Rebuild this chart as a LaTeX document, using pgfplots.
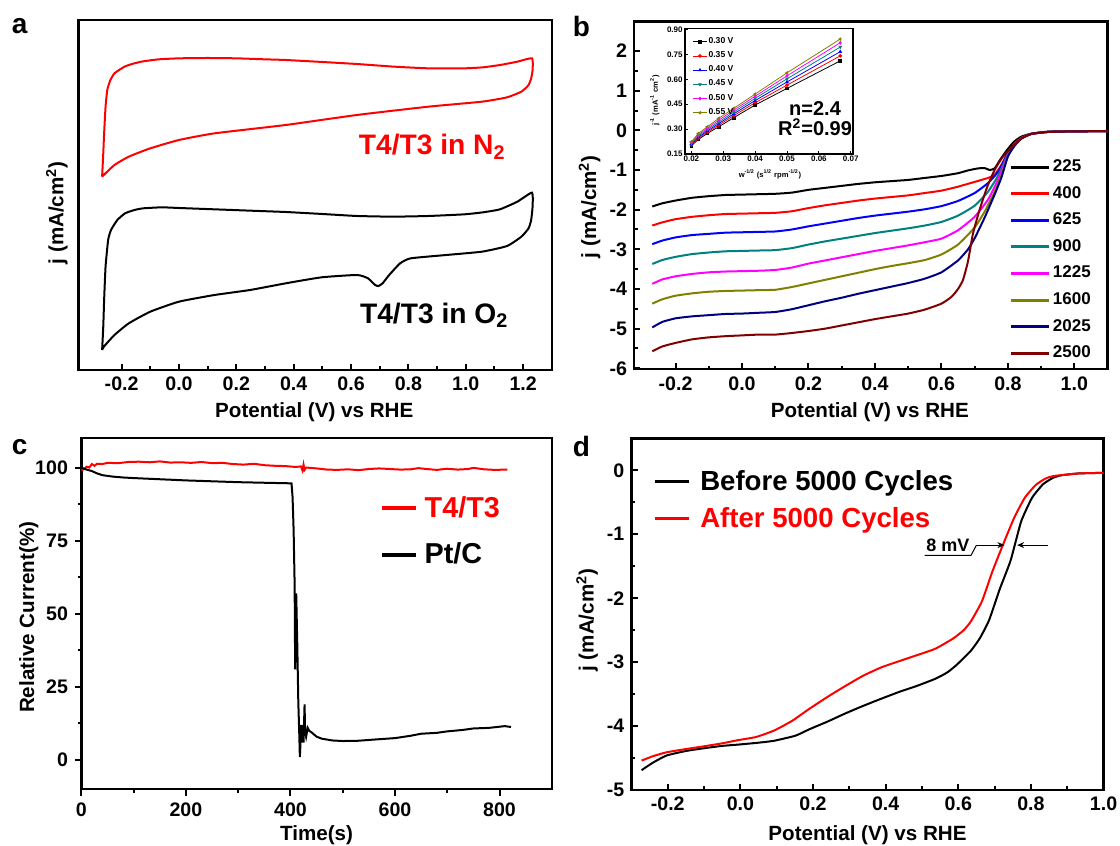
\documentclass[border=0pt]{standalone}
\usepackage{fontspec}
\setmainfont{Liberation Sans}
\usepackage{pgfplots}
\pgfplotsset{compat=1.18}
\usetikzlibrary{arrows.meta}
\newcommand{\fs}[1]{\fontsize{#1}{#1}\selectfont\bfseries}
\definecolor{cteal}{RGB}{0,128,128}
\definecolor{colive}{RGB}{128,128,0}
\definecolor{cnavy}{RGB}{0,0,128}
\definecolor{cwine}{RGB}{128,0,0}
\definecolor{cmag}{RGB}{255,0,255}
\definecolor{cred}{RGB}{255,0,0}
\definecolor{cblue}{RGB}{0,0,255}
\pgfplotsset{
  panel/.style={
    scale only axis, anchor=south west,
    axis line style={line width=1.2pt},
    tick style={black, line width=1pt},
    major tick length=3.2pt, minor tick length=1.8pt,
    tick align=inside, tick pos=left,
    /pgf/number format/assume math mode=true,
    tick label style={font=\fs{9.8}},
    label style={font=\fs{10.3}},
    every axis plot/.append style={line width=1pt},
    legend cell align=left,
  },
  fixone/.style={xticklabel style={/pgf/number format/.cd, fixed, fixed zerofill, precision=1}},
}
\begin{document}
\begin{tikzpicture}
\path[use as bounding box] (0,0) rectangle (560pt,423pt);
% ---------------- panel a
\begin{axis}[panel, fixone, at={(39.3pt,238pt)}, width=236.6pt, height=175pt,
  xmin=-0.35, xmax=1.3, ymin=-11.1, ymax=-0.6,
  xtick={-0.2,0,0.2,0.4,0.6,0.8,1.0,1.2}, minor x tick num=1, ytick=\empty,
  xlabel={Potential (V) vs RHE}, ylabel={j (mA/cm\textsuperscript{2})},
  x label style={at={(axis description cs:0.498,-0.12)}, anchor=center},
  y label style={at={(axis description cs:-0.046,0.449)}, anchor=center},
]
\addplot[cred, smooth, tension=0.3] coordinates {
(-0.268,-5.30) (-0.264,-4.60) (-0.261,-4.00) (-0.256,-3.20) (-0.25,-2.70) (-0.24,-2.42) (-0.225,-2.20) (-0.19,-2.00) (-0.16,-1.91) (-0.125,-1.84) (-0.07,-1.78) (0.0,-1.75) (0.1,-1.74) (0.2,-1.75) (0.3,-1.78) (0.372,-1.80) (0.5,-1.86) (0.62,-1.92) (0.75,-2.00) (0.87,-2.05) (0.995,-2.05) (1.06,-2.02) (1.12,-1.95) (1.18,-1.85) (1.231,-1.75) (1.233,-2.10) (1.228,-2.35) (1.219,-2.55) (1.194,-2.75) (1.144,-2.92) (1.057,-3.05) (0.87,-3.20) (0.62,-3.45) (0.372,-3.75) (0.124,-4.00) (0.0,-4.20) (-0.1,-4.45) (-0.175,-4.70) (-0.225,-4.95) (-0.262,-5.25) (-0.268,-5.30)};
\addplot[black, smooth, tension=0.3] coordinates {
(-0.268,-10.50) (-0.264,-9.80) (-0.261,-9.00) (-0.256,-8.00) (-0.247,-7.20) (-0.237,-6.90) (-0.215,-6.60) (-0.188,-6.40) (-0.155,-6.30) (-0.125,-6.25) (-0.06,-6.22) (0.0,-6.24) (0.124,-6.28) (0.248,-6.32) (0.372,-6.36) (0.5,-6.42) (0.621,-6.48) (0.746,-6.50) (0.87,-6.48) (0.995,-6.43) (1.06,-6.37) (1.119,-6.28) (1.18,-6.05) (1.231,-5.78) (1.233,-6.20) (1.228,-6.60) (1.219,-6.85) (1.194,-7.10) (1.144,-7.38) (1.057,-7.55) (0.932,-7.65) (0.808,-7.75) (0.771,-7.90) (0.733,-8.25) (0.71,-8.50) (0.696,-8.58) (0.684,-8.55) (0.659,-8.35) (0.621,-8.25) (0.497,-8.32) (0.372,-8.50) (0.248,-8.70) (0.124,-8.85) (0.0,-9.05) (-0.1,-9.35) (-0.175,-9.70) (-0.225,-10.05) (-0.262,-10.40) (-0.268,-10.50)};
\node[font=\fs{14.1}, text=cred] at (axis cs:0.883,-4.40) {T4/T3 in N\textsubscript{2}};
\node[font=\fs{14.1}] at (axis cs:0.89,-9.45) {T4/T3 in O\textsubscript{2}};
\end{axis}
% ---------------- panel b
\begin{axis}[panel, fixone, at={(317pt,238.35pt)}, width=236.8pt, height=173.8pt,
  xmin=-0.325, xmax=1.1, ymin=-6.025, ymax=2.74,
  xtick={-0.2,0,0.2,0.4,0.6,0.8,1.0}, ytick={-6,-5,-4,-3,-2,-1,0,1,2},
  minor x tick num=1, minor y tick num=1,
  xlabel={Potential (V) vs RHE}, ylabel={j (mA/cm\textsuperscript{2})},
  x label style={at={(axis description cs:0.498,-0.122)}, anchor=center},
  y label style={at={(axis description cs:-0.094,0.468)}, anchor=center},
  legend style={at={(axis description cs:0.792,0.6095)}, anchor=north west, draw=none, fill=none, inner sep=0pt, font=\fs{8.5}, row sep=3.85pt, nodes={inner sep=1pt}},
  legend image code/.code={\draw[#1, line width=1.5pt] (0pt,0pt) -- (19.2pt,0pt);},
]
\addplot[black, smooth, tension=0.3] coordinates {(-0.27,-1.92) (-0.24,-1.84) (-0.2,-1.77) (-0.15,-1.70) (-0.1,-1.66) (-0.05,-1.63) (0.0,-1.62) (0.05,-1.61) (0.1,-1.60) (0.15,-1.57) (0.2,-1.50) (0.25,-1.45) (0.3,-1.40) (0.35,-1.35) (0.4,-1.31) (0.45,-1.28) (0.5,-1.25) (0.55,-1.20) (0.6,-1.15) (0.65,-1.08) (0.68,-1.01) (0.71,-0.96) (0.73,-0.95) (0.745,-1.00) (0.76,-0.96) (0.776,-0.75) (0.797,-0.50) (0.818,-0.29) (0.84,-0.16) (0.872,-0.08) (0.925,-0.03) (1.0,-0.02) (1.1,-0.02)};
\addlegendentry{225}
\addplot[cred, smooth, tension=0.3] coordinates {(-0.27,-2.40) (-0.24,-2.32) (-0.2,-2.24) (-0.15,-2.18) (-0.1,-2.14) (-0.05,-2.11) (0.0,-2.10) (0.05,-2.09) (0.1,-2.08) (0.15,-2.04) (0.2,-1.96) (0.25,-1.89) (0.3,-1.83) (0.35,-1.77) (0.4,-1.72) (0.45,-1.68) (0.5,-1.64) (0.55,-1.58) (0.6,-1.52) (0.65,-1.42) (0.7,-1.30) (0.74,-1.20) (0.76,-1.12) (0.78,-0.88) (0.80,-0.56) (0.82,-0.34) (0.84,-0.19) (0.87,-0.09) (0.92,-0.04) (1.0,-0.025) (1.1,-0.02)};
\addlegendentry{400}
\addplot[cblue, smooth, tension=0.3] coordinates {(-0.27,-2.87) (-0.24,-2.78) (-0.2,-2.70) (-0.15,-2.64) (-0.1,-2.61) (-0.05,-2.58) (0.0,-2.57) (0.05,-2.56) (0.1,-2.55) (0.15,-2.50) (0.2,-2.42) (0.25,-2.35) (0.3,-2.28) (0.35,-2.21) (0.4,-2.15) (0.45,-2.10) (0.5,-2.05) (0.55,-1.99) (0.6,-1.91) (0.65,-1.78) (0.7,-1.58) (0.74,-1.33) (0.77,-1.05) (0.80,-0.58) (0.82,-0.35) (0.84,-0.2) (0.87,-0.09) (0.92,-0.04) (1.0,-0.025) (1.1,-0.02)};
\addlegendentry{625}
\addplot[cteal, smooth, tension=0.3] coordinates {(-0.27,-3.37) (-0.24,-3.27) (-0.2,-3.19) (-0.15,-3.12) (-0.1,-3.08) (-0.05,-3.05) (0.0,-3.04) (0.05,-3.03) (0.1,-3.02) (0.15,-2.97) (0.2,-2.88) (0.25,-2.80) (0.3,-2.73) (0.35,-2.66) (0.4,-2.59) (0.45,-2.53) (0.5,-2.47) (0.55,-2.40) (0.6,-2.31) (0.65,-2.15) (0.7,-1.90) (0.74,-1.55) (0.77,-1.15) (0.80,-0.60) (0.82,-0.36) (0.84,-0.2) (0.87,-0.09) (0.92,-0.04) (1.0,-0.025) (1.1,-0.02)};
\addlegendentry{900}
\addplot[cmag, smooth, tension=0.3] coordinates {(-0.27,-3.87) (-0.24,-3.76) (-0.2,-3.68) (-0.15,-3.62) (-0.1,-3.58) (-0.05,-3.56) (0.0,-3.55) (0.05,-3.54) (0.1,-3.52) (0.15,-3.46) (0.2,-3.36) (0.25,-3.28) (0.3,-3.20) (0.35,-3.12) (0.4,-3.04) (0.45,-2.97) (0.5,-2.90) (0.55,-2.82) (0.6,-2.73) (0.65,-2.52) (0.7,-2.18) (0.74,-1.75) (0.77,-1.25) (0.80,-0.62) (0.82,-0.37) (0.84,-0.2) (0.87,-0.09) (0.92,-0.04) (1.0,-0.025) (1.1,-0.02)};
\addlegendentry{1225}
\addplot[colive, smooth, tension=0.3] coordinates {(-0.27,-4.37) (-0.24,-4.26) (-0.2,-4.17) (-0.15,-4.11) (-0.1,-4.07) (-0.05,-4.05) (0.0,-4.04) (0.05,-4.03) (0.1,-4.02) (0.15,-3.95) (0.2,-3.86) (0.25,-3.77) (0.3,-3.68) (0.35,-3.59) (0.4,-3.50) (0.45,-3.42) (0.5,-3.35) (0.55,-3.27) (0.6,-3.13) (0.65,-2.88) (0.7,-2.45) (0.73,-2.05) (0.76,-1.55) (0.78,-1.15) (0.80,-0.64) (0.82,-0.38) (0.84,-0.21) (0.87,-0.09) (0.92,-0.04) (1.0,-0.025) (1.1,-0.02)};
\addlegendentry{1600}
\addplot[cnavy, smooth, tension=0.3] coordinates {(-0.27,-4.97) (-0.24,-4.83) (-0.2,-4.74) (-0.15,-4.69) (-0.1,-4.66) (-0.05,-4.63) (0.0,-4.62) (0.05,-4.60) (0.1,-4.58) (0.15,-4.51) (0.2,-4.41) (0.25,-4.31) (0.3,-4.22) (0.35,-4.12) (0.4,-4.03) (0.45,-3.94) (0.5,-3.85) (0.55,-3.74) (0.6,-3.58) (0.65,-3.28) (0.68,-3.00) (0.7,-2.72) (0.73,-2.20) (0.76,-1.62) (0.78,-1.20) (0.80,-0.66) (0.82,-0.39) (0.84,-0.21) (0.87,-0.09) (0.92,-0.04) (1.0,-0.025) (1.1,-0.02)};
\addlegendentry{2025}
\addplot[cwine, smooth, tension=0.3] coordinates {(-0.27,-5.57) (-0.24,-5.45) (-0.2,-5.36) (-0.15,-5.27) (-0.1,-5.22) (-0.05,-5.19) (0.0,-5.17) (0.05,-5.15) (0.1,-5.15) (0.15,-5.11) (0.2,-5.06) (0.25,-5.00) (0.3,-4.92) (0.35,-4.84) (0.4,-4.76) (0.45,-4.69) (0.5,-4.62) (0.55,-4.52) (0.6,-4.37) (0.63,-4.20) (0.65,-4.00) (0.665,-3.77) (0.68,-3.30) (0.695,-2.60) (0.715,-2.00) (0.738,-1.42) (0.76,-1.00) (0.78,-0.72) (0.80,-0.52) (0.82,-0.36) (0.84,-0.21) (0.87,-0.09) (0.92,-0.04) (1.0,-0.025) (1.1,-0.02)};
\addlegendentry{2500}
\end{axis}
% ---------------- inset
\begin{axis}[scale only axis, anchor=south west, at={(342.5pt,346pt)}, width=84pt, height=62.75pt,
  xmin=0.018, xmax=0.0707, ymin=0.15, ymax=0.906,
  axis background/.style={fill=white},
  axis line style={line width=0.6pt}, tick style={black, line width=0.4pt},
  major tick length=1.5pt, minor tick length=0.8pt, tick align=inside, tick pos=left,
  xtick={0.02,0.03,0.04,0.05,0.06,0.07}, ytick={0.15,0.30,0.45,0.60,0.75,0.90},
  scaled ticks=false,
  /pgf/number format/assume math mode=true,
  tick label style={font=\fs{4}, inner sep=1pt},
  xticklabel style={/pgf/number format/.cd, fixed, fixed zerofill, precision=2},
  yticklabel style={/pgf/number format/.cd, fixed, fixed zerofill, precision=2},
  xlabel={w\textsuperscript{-1/2} (s\textsuperscript{1/2} rpm\textsuperscript{-1/2})},
  ylabel={j\textsuperscript{-1} (mA\textsuperscript{-1} cm\textsuperscript{2})},
  label style={font=\fs{3.8}},
  x label style={at={(axis description cs:0.506,-0.16)}, anchor=center},
  y label style={at={(axis description cs:-0.18,0.43)}, anchor=center},
  legend cell align=left,
  legend style={at={(axis description cs:0.0425,0.943)}, anchor=north west, draw=none, fill=none, inner sep=0pt, font=\fs{4.3}, row sep=1.4pt, nodes={inner sep=0.6pt}},
  legend image code/.code={\draw[mark repeat=2, mark phase=2, #1] plot coordinates {(0pt,0pt) (3.5pt,0pt) (7pt,0pt)};},
  every axis plot/.append style={line width=0.4pt, mark size=0.7pt},
]
\addplot[black, mark=square*] coordinates {(0.02,0.200) (0.0222,0.238) (0.025,0.274) (0.0286,0.314) (0.0333,0.369) (0.04,0.445) (0.05,0.545) (0.0667,0.711)};
\addlegendentry{0.30 V}
\addplot[cred, mark=*] coordinates {(0.02,0.205) (0.0222,0.245) (0.025,0.282) (0.0286,0.324) (0.0333,0.381) (0.04,0.459) (0.05,0.565) (0.0667,0.741)};
\addlegendentry{0.35 V}
\addplot[cblue, mark=triangle*] coordinates {(0.02,0.210) (0.0222,0.251) (0.025,0.289) (0.0286,0.333) (0.0333,0.392) (0.04,0.472) (0.05,0.584) (0.0667,0.766)};
\addlegendentry{0.40 V}
\addplot[cteal, mark=triangle*, mark options={rotate=180}] coordinates {(0.02,0.214) (0.0222,0.258) (0.025,0.297) (0.0286,0.343) (0.0333,0.403) (0.04,0.485) (0.05,0.603) (0.0667,0.794)};
\addlegendentry{0.45 V}
\addplot[cmag, mark=diamond*] coordinates {(0.02,0.219) (0.0222,0.266) (0.025,0.305) (0.0286,0.354) (0.0333,0.414) (0.04,0.498) (0.05,0.621) (0.0667,0.820)};
\addlegendentry{0.50 V}
\addplot[colive, mark=triangle*, mark options={rotate=90}] coordinates {(0.02,0.224) (0.0222,0.274) (0.025,0.314) (0.0286,0.365) (0.0333,0.425) (0.04,0.511) (0.05,0.639) (0.0667,0.842)};
\addlegendentry{0.55 V}
\node[font=\fs{10}] at (axis cs:0.0588,0.425) {n=2.4};
\node[font=\fs{10}] at (axis cs:0.0588,0.31) {R\textsuperscript{2}=0.99};
\end{axis}
% ---------------- panel c
\begin{axis}[panel, at={(40.7pt,28.35pt)}, width=235.2pt, height=175.5pt,
  tick align=outside,
  xmin=0, xmax=900, ymin=-10, ymax=110,
  xtick={0,200,400,600,800}, ytick={0,25,50,75,100}, minor x tick num=1, minor y tick num=1,
  xlabel={Time(s)}, ylabel={Relative Current(\%)},
  x label style={at={(axis description cs:0.5,-0.13)}, anchor=center},
  y label style={at={(axis description cs:-0.112,0.49)}, anchor=center},
  legend style={at={(axis description cs:0.635,0.842)}, anchor=north west, draw=none, fill=none, inner sep=0pt, font=\fs{14.4}, row sep=9.5pt, nodes={inner sep=1pt}, /tikz/every odd column/.append style={column sep=2.5pt}},
  legend image code/.code={\draw[#1, line width=1.6pt] (0pt,0pt) -- (17pt,0pt);},
]
\addplot[cred] coordinates {(0,99.0) (5,99.5) (10,100.3) (15,100.0) (20,101.2) (25,100.6) (30,101.3) (40,101.2) (50,101.6) (70,101.5) (90,101.9) (110,102.0) (130,101.8) (150,102.1) (170,101.7) (190,101.8) (210,101.6) (230,101.9) (250,101.5) (270,101.6) (290,101.2) (310,101.0) (330,101.3) (350,100.8) (370,100.6) (390,100.5) (410,100.2) (420,100.4) (423,99.0) (425,101.0) (427,99.2) (430,100.0) (450,99.7) (470,99.3) (490,99.2) (510,99.4) (530,99.1) (550,99.5) (570,99.7) (590,99.5) (610,99.3) (630,99.4) (645,99.8) (660,99.5) (680,99.2) (700,99.6) (720,99.3) (740,99.5) (750,99.9) (770,99.4) (790,99.2) (815,99.3)};
\addlegendentry{\textcolor{cred}{T4/T3}}
\addplot[black] coordinates {(0,100.0) (5,99.6) (10,99.3) (20,98.8) (30,98.0) (40,97.4) (60,96.9) (80,96.6) (100,96.4) (150,96.0) (200,95.6) (250,95.3) (300,95.0) (350,94.8) (402,94.6) (404,90) (406,79) (408,60) (409,31) (410,45) (411,57) (413,40) (415,20) (417,8) (418,1) (419,5) (420,12) (421,6) (422,11) (423,7) (424,12) (425,6) (427,19) (428,10) (430,8) (433,11) (436,10) (440,9.5) (450,8.0) (460,7.3) (480,6.7) (500,6.5) (530,6.6) (560,7.0) (600,7.5) (630,8.3) (650,9.0) (680,9.3) (700,9.8) (730,10.3) (750,10.8) (780,11.0) (810,11.6) (822,11.3)};
\addlegendentry{Pt/C}
\end{axis}
% ---------------- panel d
\begin{axis}[panel, fixone, at={(315.7pt,28pt)}, width=236.1pt, height=175.85pt,
  xmin=-0.3, xmax=1.0, ymin=-5, ymax=0.5,
  xtick={-0.2,0,0.2,0.4,0.6,0.8,1.0}, ytick={-5,-4,-3,-2,-1,0},
  minor x tick num=1, minor y tick num=1,
  xlabel={Potential (V) vs RHE}, ylabel={j (mA/cm\textsuperscript{2})},
  x label style={at={(axis description cs:0.5,-0.128)}, anchor=center},
  y label style={at={(axis description cs:-0.094,0.483)}, anchor=center},
  legend style={at={(axis description cs:0.045,0.9164)}, anchor=north west, draw=none, fill=none, inner sep=0pt, font=\fs{13.8}, row sep=5.1pt, nodes={inner sep=1pt}, /tikz/every odd column/.append style={column sep=4pt}},
  legend image code/.code={\draw[#1, line width=1.6pt] (0pt,0pt) -- (17pt,0pt);},
]
\addplot[black, smooth, tension=0.3] coordinates {(-0.272,-4.69) (-0.24,-4.57) (-0.203,-4.46) (-0.15,-4.39) (-0.104,-4.35) (-0.05,-4.31) (-0.006,-4.29) (0.05,-4.26) (0.093,-4.23) (0.152,-4.15) (0.19,-4.05) (0.24,-3.93) (0.29,-3.80) (0.34,-3.68) (0.389,-3.57) (0.44,-3.46) (0.487,-3.37) (0.537,-3.26) (0.57,-3.16) (0.596,-3.04) (0.635,-2.82) (0.66,-2.62) (0.685,-2.34) (0.714,-1.86) (0.744,-1.41) (0.773,-0.80) (0.803,-0.43) (0.833,-0.22) (0.86,-0.12) (0.882,-0.08) (0.93,-0.05) (1.0,-0.04)};
\addlegendentry{Before 5000 Cycles}
\addplot[cred, smooth, tension=0.3] coordinates {(-0.272,-4.54) (-0.24,-4.47) (-0.203,-4.41) (-0.15,-4.36) (-0.104,-4.32) (-0.05,-4.27) (-0.006,-4.22) (0.044,-4.17) (0.093,-4.07) (0.142,-3.92) (0.19,-3.73) (0.241,-3.54) (0.29,-3.37) (0.339,-3.21) (0.389,-3.08) (0.44,-2.98) (0.487,-2.89) (0.537,-2.79) (0.586,-2.63) (0.615,-2.50) (0.635,-2.36) (0.665,-2.05) (0.694,-1.58) (0.724,-1.15) (0.754,-0.74) (0.783,-0.43) (0.813,-0.23) (0.84,-0.13) (0.862,-0.09) (0.93,-0.05) (1.0,-0.04)};
\addlegendentry{\textcolor{cred}{After 5000 Cycles}}
\draw[line width=0.5pt] (axis cs:0.507,-1.33) -- (axis cs:0.635,-1.33) -- (axis cs:0.65,-1.17);
\draw[line width=0.5pt, -{Stealth[length=3.5pt,width=3pt]}] (axis cs:0.65,-1.17) -- (axis cs:0.727,-1.17);
\draw[line width=0.5pt, -{Stealth[length=3.5pt,width=3pt]}] (axis cs:0.847,-1.17) -- (axis cs:0.762,-1.17);
\node[font=\fs{9}] at (axis cs:0.571,-1.17) {8 mV};
\end{axis}
% ---------------- panel letters
\node[font=\fs{14}, anchor=base] at (9.8pt,406.35pt) {a};
\node[font=\fs{14}, anchor=base] at (290.75pt,404.65pt) {b};
\node[font=\fs{14}, anchor=base] at (9.8pt,195.5pt) {c};
\node[font=\fs{14}, anchor=base] at (290.7pt,194.65pt) {d};
\end{tikzpicture}
\end{document}
